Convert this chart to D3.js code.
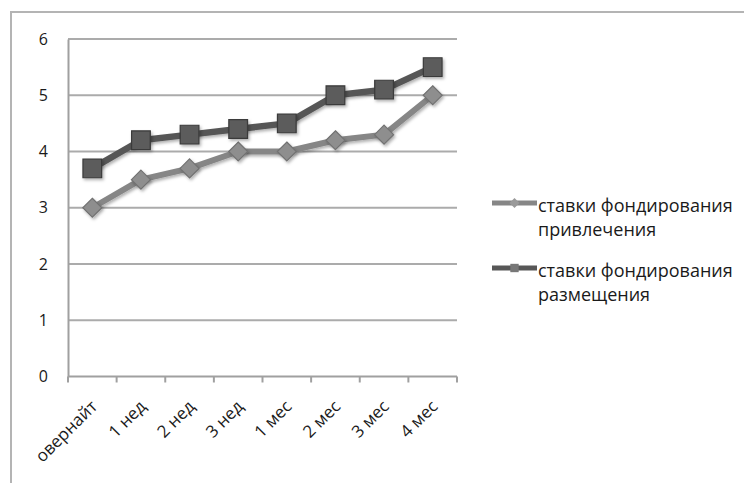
<!DOCTYPE html>
<html>
<head>
<meta charset="utf-8">
<script src="https://cdn.jsdelivr.net/npm/d3@7"></script>
<style>
  html, body { margin: 0; padding: 0; background: #fff; }
  svg { display: block; }
  text { font-family: "Open Sans", "Noto Sans", sans-serif; fill: #1a1a1a; }
</style>
</head>
<body>
<svg id="chart" width="744" height="483"></svg>
<script>
// Terms of the funding rates
const categories = ["овернайт", "1 нед", "2 нед", "3 нед", "1 мес", "2 мес", "3 мес", "4 мес"];
// Rates, %
const attractionRates = [3.0, 3.5, 3.7, 4.0, 4.0, 4.2, 4.3, 5.0];
const placementRates  = [3.7, 4.2, 4.3, 4.4, 4.5, 5.0, 5.1, 5.5];
const seriesNames = ["ставки фондирования привлечения", "ставки фондирования размещения"];
const yTicks = [0, 1, 2, 3, 4, 5, 6];

const svg = d3.select("#chart");

// Outer chart frame
svg.append("rect")
  .attr("x", 11).attr("y", 12)
  .attr("width", 760).attr("height", 500)
  .attr("fill", "#fff")
  .attr("stroke", "#b4b4b4").attr("stroke-width", 2);

const plot = { left: 68, right: 457, top: 39, bottom: 376.5 };

const x = d3.scaleBand().domain(categories).range([plot.left, plot.right]);
const y = d3.scaleLinear().domain([0, 6]).range([plot.bottom, plot.top]);

const defs = svg.append("defs");
const shadow = defs.append("filter").attr("id", "shadow")
  .attr("x", "-50%").attr("y", "-50%").attr("width", "200%").attr("height", "200%");
shadow.append("feDropShadow").attr("dx", 1.5).attr("dy", 2).attr("stdDeviation", 1.5)
  .attr("flood-color", "#000").attr("flood-opacity", 0.3);

// Horizontal gridlines
svg.append("g").selectAll("line").data(yTicks.filter(d => d > 0)).join("line")
  .attr("x1", plot.left).attr("x2", plot.right)
  .attr("y1", d => y(d)).attr("y2", d => y(d))
  .attr("stroke", "#ababab").attr("stroke-width", 2);

// Y axis
const yAxis = svg.append("g").attr("transform", `translate(${plot.left},0)`)
  .call(d3.axisLeft(y).tickValues(yTicks).tickFormat(d3.format("d")).tickSize(0).tickPadding(20));
yAxis.select(".domain").attr("stroke", "#a0a0a0").attr("stroke-width", 2);
yAxis.selectAll("text").attr("font-size", 16).attr("fill", "#1a1a1a")
  .style("font-family", "'Open Sans', sans-serif");

// X axis with ticks at band edges
const xAxisG = svg.append("g").attr("transform", `translate(0,${plot.bottom})`);
xAxisG.append("line")
  .attr("x1", plot.left).attr("x2", plot.right)
  .attr("stroke", "#a0a0a0").attr("stroke-width", 2);
const edges = categories.map(c => x(c)).concat([x(categories[categories.length - 1]) + x.bandwidth()]);
xAxisG.selectAll("line.tick").data(edges).join("line").attr("class", "tick")
  .attr("x1", d => d).attr("x2", d => d).attr("y1", 0).attr("y2", 6)
  .attr("stroke", "#a0a0a0").attr("stroke-width", 2);
xAxisG.selectAll("text").data(categories).join("text")
  .attr("transform", d => `translate(${x(d) + x.bandwidth() / 2 + 6},${31}) rotate(-45)`)
  .attr("text-anchor", "end")
  .attr("font-size", 17)
  .text(d => d);

const cx = d => x(d) + x.bandwidth() / 2;

// Diamond as a square turned 45 degrees
const diamondPath = s => `M0,${-s}L${s},0L0,${s}L${-s},0Z`;

// Series lines and markers
function drawSeries(values, lineColor, lineWidth, fill, stroke, shape) {
  const pts = values.map((v, i) => [cx(categories[i]), y(v)]);
  svg.append("path")
    .attr("d", d3.line()(pts))
    .attr("fill", "none")
    .attr("stroke", lineColor).attr("stroke-width", lineWidth)
    .attr("stroke-linejoin", "round")
    .attr("filter", "url(#shadow)");
  const markerD = shape === "square"
    ? d3.symbol().type(d3.symbolSquare).size(350)()
    : diamondPath(9.5);
  svg.append("g").selectAll("path").data(pts).join("path")
    .attr("transform", d => `translate(${d[0]},${d[1]})`)
    .attr("d", markerD)
    .attr("fill", fill).attr("stroke", stroke).attr("stroke-width", 1.2)
    .attr("filter", "url(#shadow)");
}

drawSeries(attractionRates, "#868686", 6, "#8e8e8e", "#727272", "diamond");
drawSeries(placementRates, "#575757", 6.5, "#5b5b5b", "#3a3a3a", "square");

// Legend
const legend = [
  { name: seriesNames[0], lines: ["ставки фондирования", "привлечения"], y: 212, color: "#868686", fill: "#9a9a9a", marker: diamondPath(5) },
  { name: seriesNames[1], lines: ["ставки фондирования", "размещения"], y: 277, color: "#575757", fill: "#777", marker: d3.symbol().type(d3.symbolSquare).size(70)() }
];
const lg = svg.append("g").selectAll("g").data(legend).join("g")
  .attr("transform", d => `translate(0,${d.y})`);
lg.append("line").attr("x1", 492).attr("x2", 537).attr("y1", -9).attr("y2", -9)
  .attr("stroke", d => d.color).attr("stroke-width", 5);
lg.append("path").attr("transform", "translate(514.5,-9)")
  .attr("d", d => d.marker)
  .attr("fill", d => d.fill);
lg.append("text").attr("x", 538).attr("y", 0).attr("font-size", 18)
  .selectAll("tspan").data(d => d.lines).join("tspan")
  .attr("x", 538).attr("dy", (d, i) => i === 0 ? 0 : 24)
  .text(d => d);
</script>
</body>
</html>
